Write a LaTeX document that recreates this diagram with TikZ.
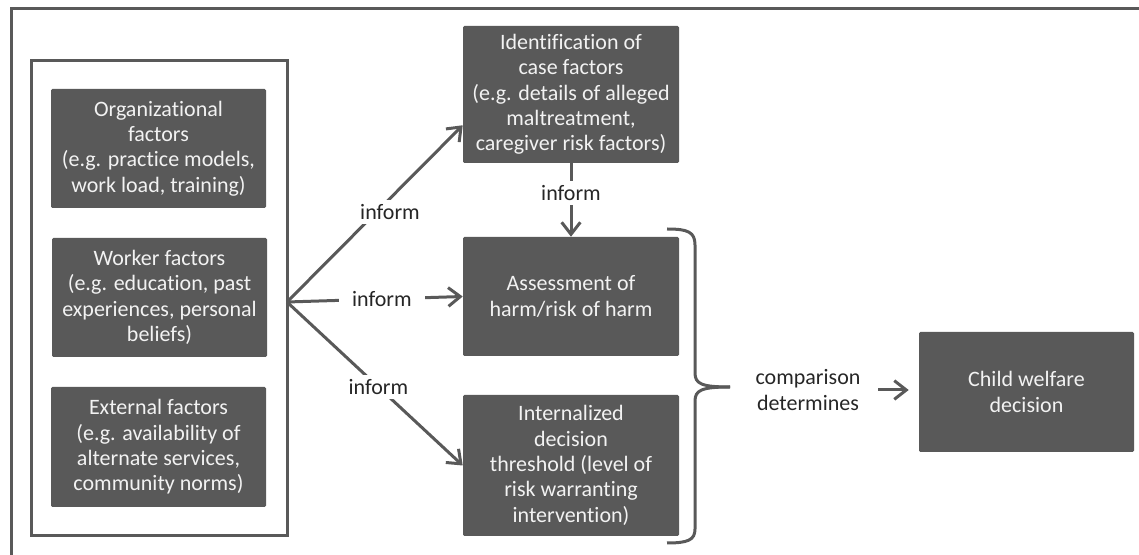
\documentclass[tikz,border=0pt]{standalone}
\usepackage{fontspec}
\setmainfont[Ligatures=NoCommon]{Carlito}
\usetikzlibrary{arrows.meta,calc}
\definecolor{boxgray}{HTML}{595959}
\definecolor{boxtext}{HTML}{F2F2F2}
\definecolor{labtext}{HTML}{262626}
\begin{document}
\begin{tikzpicture}[x=0.75pt,y=-0.75pt,
  txt/.style={font=\fontsize{16.5}{19}\selectfont},
  sz/.style 2 args={minimum width=#1*0.75pt, minimum height=#2*0.75pt},
  box/.style={txt, fill=boxgray, rounded corners=1pt, text=boxtext, align=center, inner sep=0pt},
  group/.style={draw=boxgray, line width=2.25pt, inner sep=0pt},
  frame/.style={draw=boxgray, line width=2.25pt},
  conn/.style={draw=boxgray, line width=2.25pt, -{Straight Barb[length=9pt,width=14pt]}},
  brace/.style={draw=boxgray, line width=2.25pt},
  lab/.style={txt, text=labtext, fill=white, inner sep=3pt, align=center}]
\useasboundingbox (0,0) rectangle (1139,555);
% outer frame (cropped)
\draw[frame] (11,556) -- (11,8.5) -- (1140,8.5);
% left group
\node[group, sz={256}{475}] (grp) at (159,298.5) {};
\node[box, sz={215}{119}] (org) at (158.5,148.5) {Organizational\\factors\\(e.g. practice models,\\work load, training)};
\node[box, sz={215}{119}] (work) at (159.5,297.5) {Worker factors\\(e.g. education, past\\experiences, personal\\beliefs)};
\node[box, sz={215}{120}] (ext) at (158.5,447) {External factors\\(e.g. availability of\\alternate services,\\community norms)};
% middle column
\node[box, sz={216}{137}] (ident) at (571,94.5) {Identification of\\case factors\\(e.g. details of alleged\\maltreatment,\\caregiver risk factors)};
\node[box, sz={216}{119}] (assess) at (571,296.5) {Assessment of\\harm/risk of harm};
\node[box, sz={216}{141}] (intern) at (571,465.5) {Internalized\\decision\\threshold (level of\\risk warranting\\intervention)};
% right
\node[box, sz={215}{120}] (child) at (1026.5,392) {Child welfare\\decision};
% connectors
\coordinate (src) at (287,302);
\draw[conn] (src) -- ([yshift=28.5pt]ident.south west);
\node[lab] (l1) at (390,212) {inform};
\draw[conn] (src) -- node[lab, pos=0.54, inner xsep=10pt] (l2) {inform} (assess.west);
\draw[conn] (src) -- node[lab, pos=0.52] (l3) {inform} (intern.west);
\draw[conn] (ident.south) -- node[lab, pos=0.405] (l4) {inform} (assess.north);
% brace
\coordinate (btop) at (667,229);
\coordinate (btip) at (730,387);
\coordinate (bbot) at (667,543);
\draw[brace] (btop) .. controls (688,229) and (695,232) .. (695,245) -- (695,373) .. controls (695,384) and (702,387) .. (btip);
\draw[brace] (btip) .. controls (702,387) and (695,390) .. (695,401) -- (695,529) .. controls (695,540) and (688,543) .. (bbot);
% comparison
\node[lab, fill=none] (cmp) at (808,390) {comparison\\determines};
\draw[conn, shorten <=10pt, shorten >=7.5pt] (cmp.east) -- (cmp.east -| child.west);
\end{tikzpicture}
\end{document}
